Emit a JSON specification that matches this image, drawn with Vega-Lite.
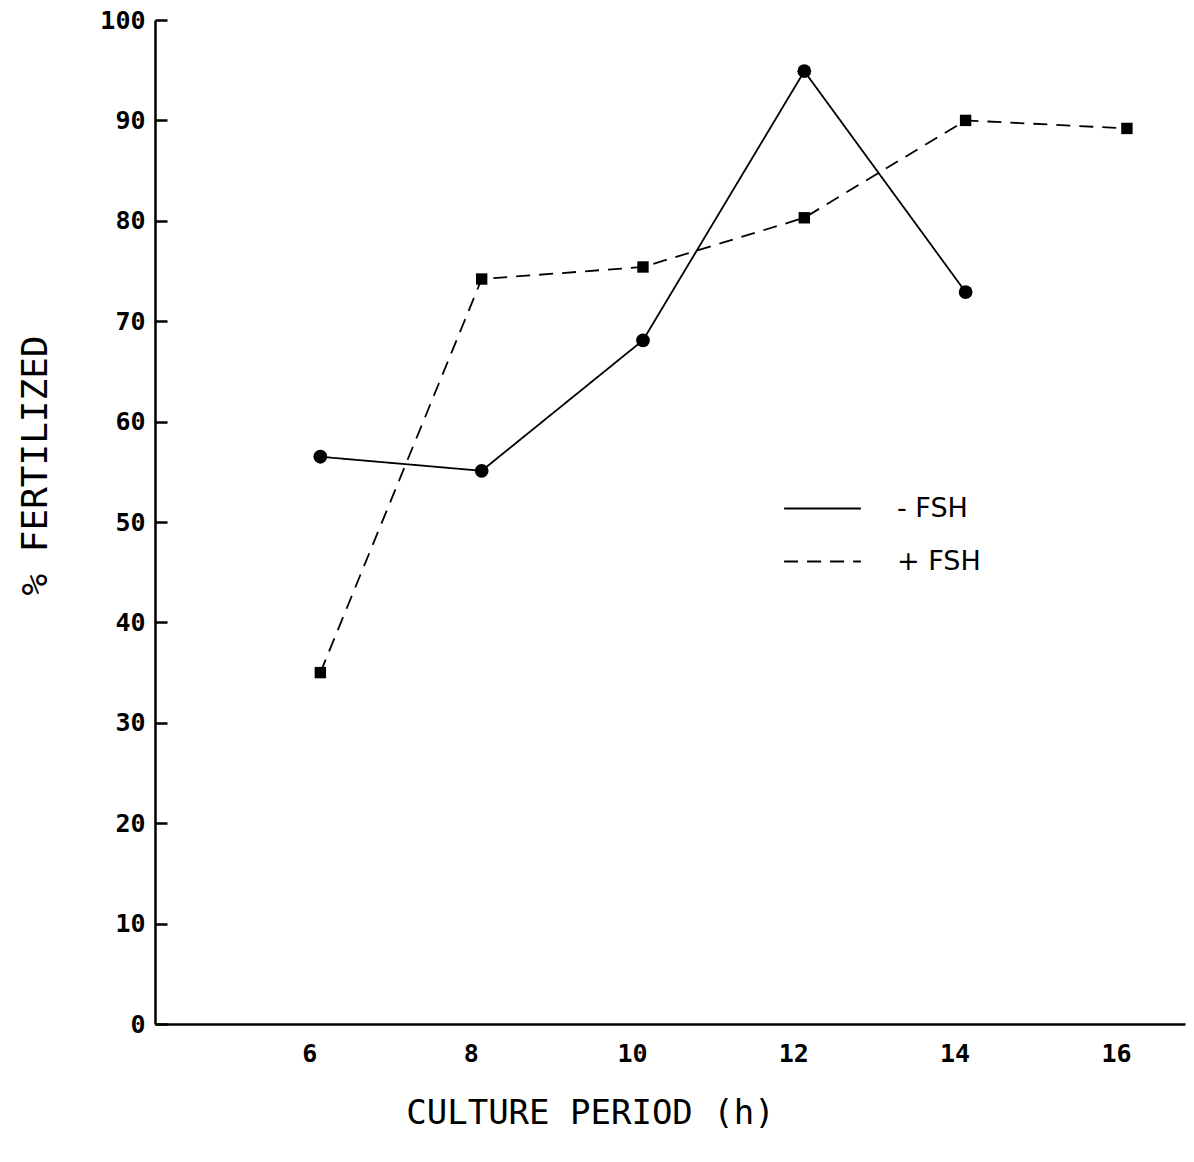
{
  "$schema": "https://vega.github.io/schema/vega-lite/v6.json",
  "width": 1030,
  "height": 1004,
  "autosize": "none",
  "padding": {"left": 155, "top": 20, "right": 9, "bottom": 138},
  "background": "white",
  "config": {
    "view": {"stroke": null},
    "font": "DejaVu Sans Mono"
  },
  "data": {
    "values": [
      {"period": 6, "pct": 56.5, "group": "- FSH"},
      {"period": 8, "pct": 55.1, "group": "- FSH"},
      {"period": 10, "pct": 68.1, "group": "- FSH"},
      {"period": 12, "pct": 94.9, "group": "- FSH"},
      {"period": 14, "pct": 72.9, "group": "- FSH"},
      {"period": 6, "pct": 35.0, "group": "+ FSH"},
      {"period": 8, "pct": 74.2, "group": "+ FSH"},
      {"period": 10, "pct": 75.4, "group": "+ FSH"},
      {"period": 12, "pct": 80.3, "group": "+ FSH"},
      {"period": 14, "pct": 90.0, "group": "+ FSH"},
      {"period": 16, "pct": 89.2, "group": "+ FSH"}
    ]
  },
  "encoding": {
    "x": {
      "field": "period", "type": "quantitative",
      "scale": {"domain": [3.95, 16.72], "nice": false, "zero": false},
      "axis": {
        "title": "CULTURE PERIOD (h)",
        "values": [6, 8, 10, 12, 14, 16],
        "grid": false, "ticks": false,
        "domainColor": "black", "domainWidth": 2.5,
        "labelFont": "DejaVu Sans Mono", "labelFontSize": 25, "labelFontWeight": "bold",
        "labelColor": "black", "labelPadding": 17, "labelOffset": -11,
        "titleFont": "DejaVu Sans Mono", "titleFontSize": 34, "titleFontWeight": "normal",
        "titleColor": "black", "titleX": 435, "titleY": 89, "titleBaseline": "middle", "titleAlign": "center"
      }
    },
    "y": {
      "field": "pct", "type": "quantitative",
      "scale": {"domain": [0, 100], "nice": false},
      "axis": {
        "title": "% FERTILIZED",
        "values": [0, 10, 20, 30, 40, 50, 60, 70, 80, 90, 100],
        "grid": false,
        "tickSize": -12, "tickColor": "black", "tickWidth": 2.5,
        "domainColor": "black", "domainWidth": 2.5,
        "labelFont": "DejaVu Sans Mono", "labelFontSize": 25, "labelFontWeight": "bold",
        "labelColor": "black", "labelPadding": 22,
        "titleFont": "DejaVu Sans Mono", "titleFontSize": 36, "titleFontWeight": "normal",
        "titleColor": "black", "titleAngle": -90, "titleX": -120, "titleY": 445,
        "titleBaseline": "middle", "titleAlign": "center"
      }
    }
  },
  "layer": [
    {
      "mark": {"type": "line", "color": "black", "strokeWidth": 1.8},
      "encoding": {
        "strokeDash": {
          "field": "group", "type": "nominal",
          "scale": {"domain": ["- FSH", "+ FSH"], "range": [[1, 0], [14, 9]]},
          "legend": {
            "title": null, "orient": "none", "legendX": 628, "legendY": 449,
            "symbolType": "stroke", "symbolSize": 5900, "symbolStrokeWidth": 1.8,
            "symbolStrokeColor": "black",
            "labelFont": "DejaVu Sans", "labelFontSize": 27, "labelColor": "black",
            "labelOffset": 35, "rowPadding": -3
          }
        }
      }
    },
    {
      "transform": [{"filter": "datum.group === '- FSH'"}],
      "mark": {"type": "point", "shape": "circle", "filled": true, "color": "black", "opacity": 1, "size": 190},
      "encoding": {}
    },
    {
      "transform": [{"filter": "datum.group === '+ FSH'"}],
      "mark": {"type": "point", "shape": "square", "filled": true, "color": "black", "opacity": 1, "size": 130},
      "encoding": {}
    }
  ]
}
